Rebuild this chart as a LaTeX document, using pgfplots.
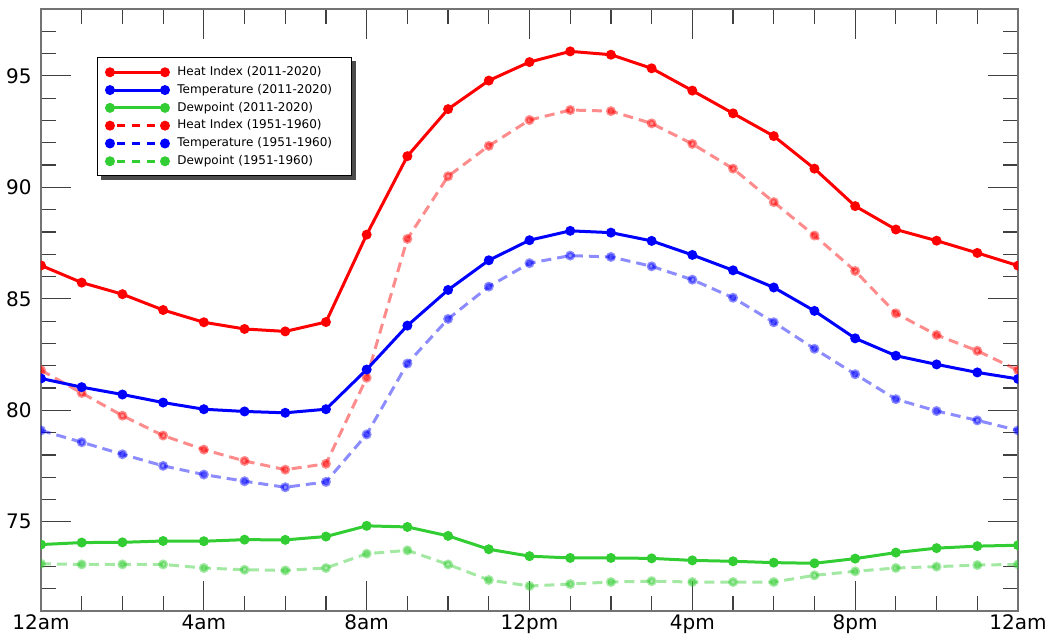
\documentclass[border=0pt]{standalone}
\usepackage{fontspec}
\setmainfont{DejaVu Sans}
\usepackage{pgfplots}
\usepackage{pgfplotstable}
\pgfplotsset{compat=1.18}
\definecolor{hired}{RGB}{255,0,0}
\definecolor{tblue}{RGB}{0,0,255}
\definecolor{dgreen}{RGB}{50,205,50}

\pgfplotstableread{
h hinew tnew dnew hiold told dold
0  86.50 81.43 73.98 81.80 79.10 73.12
1  85.73 81.04 74.07 80.78 78.57 73.09
2  85.21 80.71 74.08 79.76 78.03 73.09
3  84.50 80.35 74.14 78.87 77.51 73.09
4  83.95 80.05 74.13 78.24 77.12 72.93
5  83.65 79.95 74.20 77.73 76.82 72.85
6  83.54 79.89 74.19 77.34 76.55 72.82
7  83.96 80.05 74.34 77.60 76.79 72.93
8  87.88 81.83 74.82 81.46 78.92 73.57
9  91.40 83.80 74.77 87.69 82.10 73.72
10 93.51 85.40 74.37 90.50 84.10 73.09
11 94.79 86.73 73.77 91.86 85.55 72.39
12 95.62 87.63 73.46 93.02 86.60 72.12
13 96.10 88.05 73.38 93.47 86.94 72.21
14 95.95 87.97 73.38 93.42 86.88 72.30
15 95.34 87.60 73.36 92.87 86.46 72.34
16 94.34 86.97 73.27 91.95 85.86 72.30
17 93.32 86.28 73.23 90.84 85.05 72.30
18 92.30 85.51 73.17 89.34 83.95 72.30
19 90.84 84.46 73.14 87.84 82.76 72.60
20 89.16 83.23 73.35 86.25 81.62 72.78
21 88.11 82.45 73.62 84.35 80.50 72.93
22 87.61 82.06 73.82 83.38 79.97 72.99
23 87.06 81.70 73.91 82.67 79.55 73.06
24 86.49 81.41 73.95 81.80 79.10 73.09
}\tempdata

\begin{document}
\begin{tikzpicture}
\begin{axis}[
  scale only axis,
  width=488.5pt, height=301pt,
  xmin=0, xmax=24, ymin=71, ymax=98,
  xtick={0,4,...,24},
  xticklabels={12am,4am,8am,12pm,4pm,8pm,12am},
  minor xtick={0,1,...,24},
  ytick={75,80,...,95},
  minor ytick={71,72,...,98},
  major tick length=15pt, minor tick length=7.5pt,
  tick style={black!75, line width=0.6pt},
  axis line style={black!55, line width=1pt},
  ticklabel style={font=\fontsize{10}{12}\selectfont},
  yticklabel style={xshift=-1.2pt},
  xticklabel style={yshift=1.5pt},
  /pgf/number format/assume math mode=true,
  clip marker paths=true,
  legend cell align=left,
  legend image code/.code={\draw[#1] plot coordinates {(0pt,0pt) (27.5pt,0pt)};},
  legend style={name=leg, at={(axis description cs:0.0573,0.920)}, anchor=north west,
    draw=black, line width=0.6pt, fill=white,
    inner xsep=4.5pt, inner ysep=4.4pt, row sep=3.2pt, column sep=4.5pt,
    nodes={font=\fontsize{6}{7}\selectfont, inner sep=0pt, text height=4.5pt, text depth=1.2pt, text width=82.5pt, align=left}},
]
% 1951-1960 (faded, dashed)
\addplot[forget plot, hired, line width=1.5pt, dash pattern=on 5pt off 3pt, mark=*, mark size=1.7pt, mark options={solid}, opacity=0.45] table[x=h, y=hiold] {\tempdata};
\addplot[forget plot, tblue, line width=1.5pt, dash pattern=on 5pt off 3pt, mark=*, mark size=1.7pt, mark options={solid}, opacity=0.45] table[x=h, y=told] {\tempdata};
\addplot[forget plot, dgreen, line width=1.5pt, dash pattern=on 5pt off 3pt, mark=*, mark size=1.7pt, mark options={solid}, opacity=0.45] table[x=h, y=dold] {\tempdata};
% 2011-2020 (solid)
\addplot[hired, line width=1.5pt, mark=*, mark size=1.7pt] table[x=h, y=hinew] {\tempdata};
\addlegendentry{Heat Index (2011-2020)}
\addplot[tblue, line width=1.5pt, mark=*, mark size=1.7pt] table[x=h, y=tnew] {\tempdata};
\addlegendentry{Temperature (2011-2020)}
\addplot[dgreen, line width=1.5pt, mark=*, mark size=1.7pt] table[x=h, y=dnew] {\tempdata};
\addlegendentry{Dewpoint (2011-2020)}
\addlegendimage{hired, line width=1.5pt, dash pattern=on 4pt off 3.6pt, dash phase=-3.5pt, mark=*, mark size=1.7pt, mark options={solid}}
\addlegendentry{Heat Index (1951-1960)}
\addlegendimage{tblue, line width=1.5pt, dash pattern=on 4pt off 3.6pt, dash phase=-3.5pt, mark=*, mark size=1.7pt, mark options={solid}}
\addlegendentry{Temperature (1951-1960)}
\addlegendimage{dgreen, line width=1.5pt, dash pattern=on 4pt off 3.6pt, dash phase=-3.5pt, mark=*, mark size=1.7pt, mark options={solid}}
\addlegendentry{Dewpoint (1951-1960)}
\end{axis}
\fill[black!70] ([yshift=-1.8pt]leg.north east) rectangle ([xshift=1.8pt,yshift=-1.8pt]leg.south east);
\fill[black!70] ([xshift=1.8pt]leg.south west) rectangle ([xshift=1.8pt,yshift=-1.8pt]leg.south east);
\pgfresetboundingbox
\path[use as bounding box] (-20.5pt,-14pt) rectangle (503.5pt,305.5pt);
\end{tikzpicture}
\end{document}
